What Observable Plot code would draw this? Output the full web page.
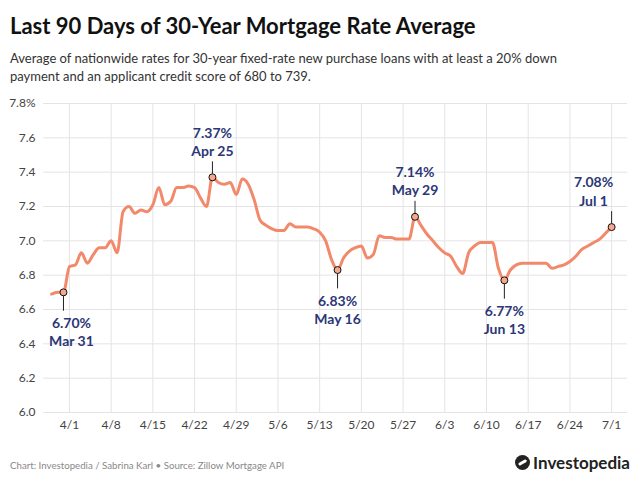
<!DOCTYPE html>
<html>
<head>
<meta charset="utf-8">
<script src="https://cdn.jsdelivr.net/npm/d3@7"></script>
<script src="https://cdn.jsdelivr.net/npm/@observablehq/plot@0.6"></script>
<style>
  html, body { margin: 0; padding: 0; background: #fff; }
  body { width: 640px; height: 487px; position: relative; overflow: hidden; font-family: Lato, "Noto Sans", sans-serif; }
  #title { position: absolute; left: 10px; top: 12px; font-size: 22px; font-weight: 700; color: #111; white-space: nowrap; }
  #subtitle { position: absolute; left: 10px; top: 49px; font-size: 13px; line-height: 18px; color: #333; white-space: nowrap; }
  #chart { position: absolute; left: 0; top: 90px; }
  #footer { position: absolute; left: 10px; top: 459px; font-size: 9.7px; color: #888; white-space: nowrap; }
  #logo { position: absolute; right: 10px; top: 452px; font-size: 17px; font-weight: 700; color: #222; display: flex; align-items: center; gap: 3px; }
  #logo .mark { width: 15px; height: 15px; border-radius: 50%; background: #222; position: relative; }
  #logo .mark::after { content: ""; position: absolute; left: 3px; top: 6px; width: 9px; height: 3px; background: #fff; transform: rotate(-30deg); border-radius: 2px; }
</style>
</head>
<body>
<div id="title">Last 90 Days of 30-Year Mortgage Rate Average</div>
<div id="subtitle">Average of nationwide rates for 30-year fixed-rate new purchase loans with at least a 20% down<br>payment and an applicant credit score of 680 to 739.</div>
<div id="chart"></div>
<div id="footer">Chart: Investopedia / Sabrina Karl • Source: Zillow Mortgage API</div>
<div id="logo"><span class="mark"></span><span>Investopedia</span></div>
<script>
// Daily series, starting Mar 29 and ending Jul 1
const startDate = "2024-03-29";
const rates = [
  6.69, 6.70, 6.70,                                   // Mar 29-31
  6.85, 6.86, 6.93, 6.87, 6.92, 6.96, 6.96,           // Apr 1-7
  7.00, 6.93, 7.17, 7.20, 7.16, 7.18, 7.17,           // Apr 8-14
  7.21, 7.31, 7.21, 7.23, 7.31, 7.31, 7.32,           // Apr 15-21
  7.31, 7.25, 7.20, 7.37, 7.34, 7.33, 7.34,           // Apr 22-28
  7.27, 7.36, 7.33, 7.24, 7.12, 7.09, 7.07,           // Apr 29-May 5
  7.06, 7.06, 7.10, 7.08, 7.08, 7.08, 7.07,           // May 6-12
  7.05, 7.00, 6.89, 6.83, 6.90, 6.94, 6.96,           // May 13-19
  6.97, 6.90, 6.92, 7.03, 7.02, 7.02, 7.01,           // May 20-26
  7.01, 7.01, 7.14, 7.09, 7.04, 7.00, 6.96,           // May 27-Jun 2
  6.93, 6.91, 6.85, 6.81, 6.93, 6.97, 6.99,           // Jun 3-9
  6.99, 6.99, 6.84, 6.77, 6.83, 6.86, 6.87,           // Jun 10-16
  6.87, 6.87, 6.87, 6.87, 6.84, 6.85, 6.86,           // Jun 17-23
  6.88, 6.91, 6.95, 6.97, 6.99, 7.01, 7.045,          // Jun 24-30
  7.08                                                // Jul 1
];
const annDates = ["2024-03-31", "2024-04-25", "2024-05-16", "2024-05-29", "2024-06-13", "2024-07-01"];
const annValues = [6.70, 7.37, 6.83, 7.14, 6.77, 7.08];
const annLabels = ["6.70%\nMar 31", "7.37%\nApr 25", "6.83%\nMay 16", "7.14%\nMay 29", "6.77%\nJun 13", "7.08%\nJul 1"];
const annSide = ["below", "above", "below", "above", "below", "above"];
const annShift = [8, 0, 0, 0, 0, -18];
const xTickDates = ["2024-04-01","2024-04-08","2024-04-15","2024-04-22","2024-04-29","2024-05-06","2024-05-13","2024-05-20","2024-05-27","2024-06-03","2024-06-10","2024-06-17","2024-06-24","2024-07-01"];
const xTickLabels = ["4/1","4/8","4/15","4/22","4/29","5/6","5/13","5/20","5/27","6/3","6/10","6/17","6/24","7/1"];
const yTicks = [6.0, 6.2, 6.4, 6.6, 6.8, 7.0, 7.2, 7.4, 7.6, 7.8];

const parse = d3.utcParse("%Y-%m-%d");
const start = parse(startDate);
const series = rates.map((v, i) => ({date: d3.utcDay.offset(start, i), rate: v}));
const ann = annDates.map((d, i) => ({
  date: parse(d), rate: annValues[i], label: annLabels[i], side: annSide[i], shift: annShift[i],
  end: annValues[i] + (annSide[i] === "above" ? 0.09 : -0.11)
}));
const xTicks = xTickDates.map(parse);
const labelOf = new Map(xTicks.map((d, i) => [+d, xTickLabels[i]]));

const lineColor = "#f2896a";
const navy = "#2c3777";

const labelMarks = ann.map(a => Plot.text([a], {
  x: "date", y: "end", text: "label",
  lineAnchor: a.side === "above" ? "bottom" : "top",
  dy: a.side === "above" ? -6 : 4,
  dx: a.shift,
  fill: navy, fontWeight: 700, fontSize: 14, lineHeight: 1.3
}));

const chart = Plot.plot({
  width: 640,
  height: 350,
  marginTop: 13,
  marginBottom: 28,
  marginLeft: 43,
  marginRight: 13,
  style: {fontFamily: "Lato, 'Noto Sans', sans-serif", fontSize: "12px", color: "#444", background: "#fff"},
  x: {type: "utc", domain: [new Date(Date.UTC(2024, 2, 27, 15, 30)), new Date(Date.UTC(2024, 6, 3, 16, 0))], ticks: xTicks,
      tickFormat: d => labelOf.get(+d), tickSize: 0, tickPadding: 8, label: null},
  y: {domain: [6.0, 7.8], ticks: yTicks, tickFormat: d => d === 7.8 ? "7.8%" : d.toFixed(1), tickSize: 0, tickPadding: 8, label: null},
  marks: [
    Plot.gridX(xTicks, {stroke: "#e4e4e4", strokeOpacity: 1, strokeWidth: 1}),
    Plot.gridY(yTicks, {stroke: "#e4e4e4", strokeOpacity: 1, strokeWidth: 1}),
    Plot.lineY(series, {x: "date", y: "rate", stroke: lineColor, strokeWidth: 3, curve: "monotone-x"}),
    Plot.ruleX(ann, {x: "date", y1: "rate", y2: "end", stroke: "#222", strokeWidth: 1}),
    Plot.dot(ann, {x: "date", y: "rate", r: 3.5, fill: "#f6a88e", stroke: "#111", strokeWidth: 1}),
    ...labelMarks
  ]
});
document.getElementById("chart").appendChild(chart);
</script>
</body>
</html>
